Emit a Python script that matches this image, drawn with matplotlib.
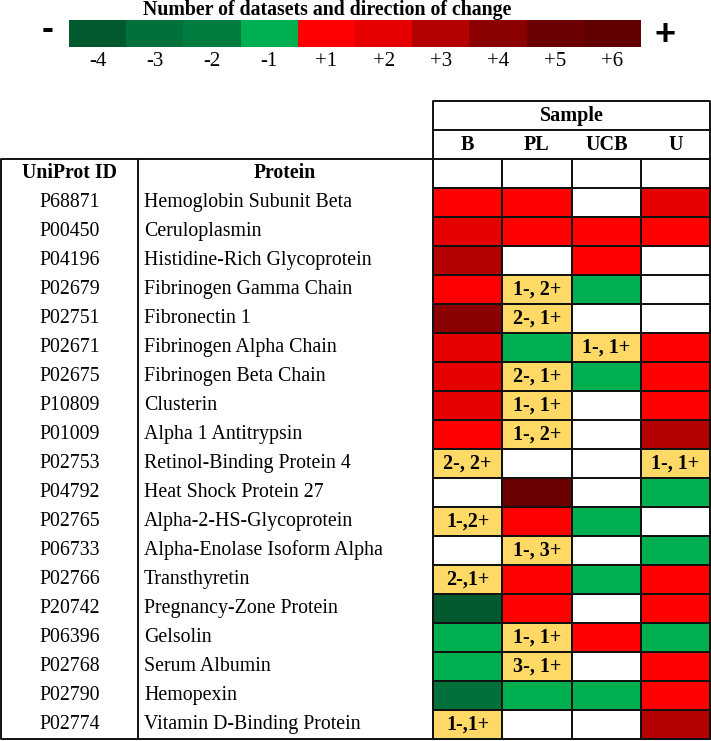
import numpy as np
import matplotlib.pyplot as plt
from matplotlib.colors import ListedColormap

plt.rcParams['font.family'] = ['Liberation Serif', 'DejaVu Serif']

# data
uniprot_ids = ['P68871', 'P00450', 'P04196', 'P02679', 'P02751', 'P02671', 'P02675',
               'P10809', 'P01009', 'P02753', 'P04792', 'P02765', 'P06733', 'P02766',
               'P20742', 'P06396', 'P02768', 'P02790', 'P02774']
proteins = ['Hemoglobin Subunit Beta', 'Ceruloplasmin', 'Histidine-Rich Glycoprotein',
            'Fibrinogen Gamma Chain', 'Fibronectin 1', 'Fibrinogen Alpha Chain',
            'Fibrinogen Beta Chain', 'Clusterin', 'Alpha 1 Antitrypsin',
            'Retinol-Binding Protein 4', 'Heat Shock Protein 27', 'Alpha-2-HS-Glycoprotein',
            'Alpha-Enolase Isoform Alpha', 'Transthyretin', 'Pregnancy-Zone Protein',
            'Gelsolin', 'Serum Albumin', 'Hemopexin', 'Vitamin D-Binding Protein']
samples = ['B', 'PL', 'UCB', 'U']
# 0 = not found, int = datasets and direction, str = mixed result
b_vals = [1, 2, 3, 1, 4, 2, 2, 2, 1, '2-, 2+', 0, '1-,2+', 0, '2-,1+', -4, -1, -1, -3, '1-,1+']
pl_vals = [1, 1, 0, '1-, 2+', '2-, 1+', -1, '2-, 1+', '1-, 1+', '1-, 2+', 0, 5, 1,
           '1-, 3+', 1, 1, '1-, 1+', '3-, 1+', -1, 0]
ucb_vals = [0, 1, 1, -1, 0, '1-, 1+', -1, 0, 0, 0, 0, -1, 0, -1, 0, 1, 0, -1, 0]
u_vals = [2, 1, 0, 0, 0, 1, 1, 1, 3, '1-, 1+', -1, 0, -1, 1, 1, -1, 1, 1, 3]

levels = [-4, -3, -2, -1, 1, 2, 3, 4, 5, 6]
level_labels = ['-4', '-3', '-2', '-1', '+1', '+2', '+3', '+4', '+5', '+6']
level_colors = ['#005a2e', '#00713a', '#007d3e', '#00b050', '#ff0000',
                '#e60000', '#b50000', '#8b0000', '#6c0000', '#600000']
mixed_color = '#ffd966'

cmap = ListedColormap(['white'] + level_colors + [mixed_color])

def code(v):
    if isinstance(v, str):
        return 11
    if v == 0:
        return 0
    return levels.index(v) + 1

columns = [b_vals, pl_vals, ucb_vals, u_vals]
n = len(proteins)
grid = np.zeros((n + 1, len(samples)))
for j, col in enumerate(columns):
    for i, v in enumerate(col):
        grid[i + 1, j] = code(v)

fig = plt.figure(figsize=(7.11, 7.41), dpi=100)
ax = fig.add_axes([0, 0, 1, 1])
ax.set_xlim(0, 711)
ax.set_ylim(741, 0)
ax.axis('off')

# legend bar
lx = 69 + 57.2 * np.arange(len(levels) + 1)
ax.pcolormesh(lx, [20, 47], np.arange(1, len(levels) + 1)[None, :], cmap=cmap,
              vmin=-0.5, vmax=11.5, edgecolors='none')
for k, lab in enumerate(level_labels):
    ax.text((lx[k] + lx[k + 1]) / 2, 62, lab, ha='center', va='center', fontsize=15)
ax.text(327, 9.5, 'Number of datasets and direction of change', ha='center', va='center',
        fontsize=14.3, fontweight='bold')
ax.text(48, 29, '-', ha='center', va='center', fontsize=26, fontweight='bold',
        family='Liberation Sans')
ax.text(665, 36, '+', ha='center', va='center', fontsize=26, fontweight='bold',
        family='Liberation Sans')

# heatmap
row_h = 29
top = 159
cx = 433 + 69.3 * np.arange(len(samples) + 1)
cy = top + row_h * np.arange(n + 2)
ax.pcolormesh(cx, cy, grid, cmap=cmap, vmin=-0.5, vmax=11.5,
              edgecolors='#111111', linewidth=1.4)
for j, col in enumerate(columns):
    for i, v in enumerate(col):
        if isinstance(v, str):
            ax.text((cx[j] + cx[j + 1]) / 2, cy[i + 1] + row_h / 2, v, ha='center',
                    va='center', fontsize=14.5, fontweight='bold')

# sample header
lw = 1.4
ax.plot([cx[0], cx[-1], cx[-1], cx[0], cx[0]], [top, top, 101, 101, top], color='#111111', lw=lw)
ax.plot([cx[0], cx[-1]], [130, 130], color='#111111', lw=lw)
ax.text((cx[0] + cx[-1]) / 2, 116, 'Sample', ha='center', va='center', fontsize=14.5,
        fontweight='bold')
for j, s in enumerate(samples):
    ax.text((cx[j] + cx[j + 1]) / 2, 145, s, ha='center', va='center', fontsize=14.5,
            fontweight='bold')

# left table
bottom = cy[-1]
ax.plot([cx[0], 1, 1, cx[0]], [top, top, bottom, bottom], color='#111111', lw=lw)
ax.plot([138, 138], [top, bottom], color='#111111', lw=lw)
ax.text(70, top + row_h / 2, 'UniProt ID', ha='center', va='center', fontsize=14.2,
        fontweight='bold')
ax.text(285, top + row_h / 2, 'Protein', ha='center', va='center', fontsize=14.2,
        fontweight='bold')
for i in range(n):
    y = cy[i + 1] + row_h / 2
    ax.text(70, y, uniprot_ids[i], ha='center', va='center', fontsize=14.3)
    ax.text(144, y, proteins[i], ha='left', va='center', fontsize=14.3)

fig.savefig('out.png', dpi=100)
